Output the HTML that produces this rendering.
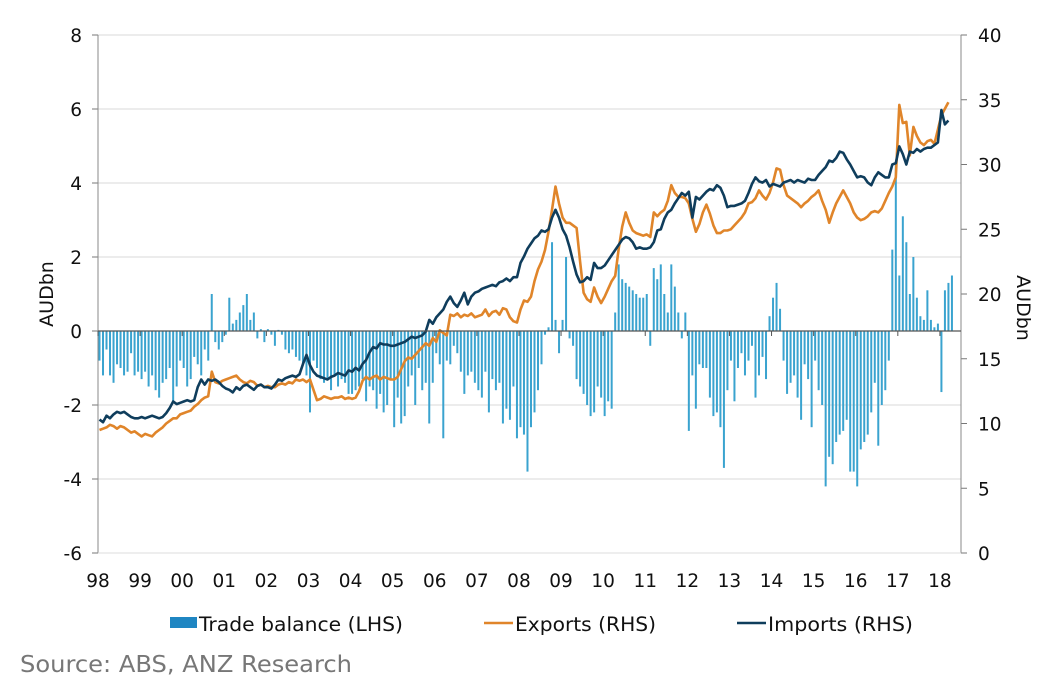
<!DOCTYPE html>
<html><head><meta charset="utf-8">
<style>
body{margin:0;background:#fff;width:1050px;height:694px;overflow:hidden;font-family:"DejaVu Sans","Liberation Sans",sans-serif;}
svg text{font-family:"DejaVu Sans","Liberation Sans",sans-serif;}
</style></head>
<body>
<svg id="chart" width="1050" height="694" viewBox="0 0 1050 694">
  <g id="grid"></g>
  <g id="bars"></g>
  <g id="lines"></g>
  <g id="axes"></g>
  <text x="53" y="294" font-size="19" fill="#111" transform="rotate(-90 53 294)" text-anchor="middle">AUDbn</text>
  <text x="1017" y="308" font-size="19" fill="#111" transform="rotate(90 1017 308)" text-anchor="middle">AUDbn</text>
  <g>
    <g>
      <rect x="170" y="617" width="27" height="11" fill="#1f86c2"/>
      <text x="199" y="631" font-size="19.5" fill="#111" textLength="204" lengthAdjust="spacingAndGlyphs">Trade balance (LHS)</text>
    </g>
    <g>
      <line x1="484" y1="623" x2="513" y2="623" stroke="#e0852a" stroke-width="2.5"/>
      <text x="515" y="631" font-size="19.5" fill="#111" textLength="141" lengthAdjust="spacingAndGlyphs">Exports (RHS)</text>
    </g>
    <g>
      <line x1="737" y1="623" x2="766" y2="623" stroke="#0f3d5c" stroke-width="2.5"/>
      <text x="768" y="631" font-size="19.5" fill="#111" textLength="145" lengthAdjust="spacingAndGlyphs">Imports (RHS)</text>
    </g>
  </g>
  <text x="20" y="672" font-size="23.5" fill="#777" textLength="332" lengthAdjust="spacingAndGlyphs">Source: ABS, ANZ Research</text>
</svg>
<script>
const yearLabels = ["98","99","00","01","02","03","04","05","06","07","08","09","10","11","12","13","14","15","16","17","18"];
const leftTicks = [-6,-4,-2,0,2,4,6,8];
const rightTicks = [0,5,10,15,20,25,30,35,40];
const balance = [
-0.8,-1.2,-0.5,-1.2,-1.4,-0.9,-1.0,-1.2,-1.1,-0.6,-1.2,-1.1,
-1.3,-1.1,-1.5,-1.2,-1.6,-1.8,-1.4,-1.3,-1.0,-1.9,-1.5,-0.8,
-1.0,-1.5,-1.3,-0.7,-0.9,-1.2,-0.5,-0.8,1.0,-0.3,-0.5,-0.3,
-0.1,0.9,0.2,0.3,0.5,0.7,1.0,0.3,0.5,-0.2,0.05,-0.3,
0.05,-0.1,-0.4,0.03,-0.1,-0.5,-0.6,-0.5,-0.7,-0.8,-0.9,-1.2,
-2.2,-0.8,-1.0,-1.3,-1.4,-1.3,-1.6,-1.2,-1.5,-1.3,-1.4,-1.7,
-1.7,-1.6,-1.5,-1.3,-1.9,-1.5,-1.6,-2.1,-1.7,-2.2,-2.0,-1.3,
-2.6,-1.8,-2.5,-2.3,-1.5,-1.2,-2.0,-1.0,-1.6,-1.4,-2.5,-1.4,
-0.6,-0.9,-2.9,-0.8,-0.9,-0.4,-0.6,-1.1,-1.7,-1.2,-1.1,-1.4,
-1.6,-1.8,-1.1,-2.2,-1.3,-1.6,-1.4,-2.5,-2.1,-2.4,-1.5,-2.9,
-2.6,-2.8,-3.8,-2.6,-2.2,-1.6,-0.9,-0.1,0.1,2.4,0.3,-0.6,
0.3,2.0,-0.2,-0.4,-1.3,-1.5,-1.7,-2.0,-2.3,-2.2,-1.5,-1.8,
-2.3,-1.9,-2.1,0.5,1.8,1.4,1.3,1.2,1.1,1.0,0.9,0.9,
1.0,-0.4,1.7,1.4,1.8,1.0,0.5,1.8,1.2,0.5,-0.2,0.5,
-2.7,-1.2,-2.1,-0.9,-1.0,-1.0,-1.8,-2.3,-2.2,-2.6,-3.7,-1.6,
-0.8,-1.9,-1.0,-0.6,-1.2,-0.8,-0.4,-1.8,-1.2,-0.7,-1.3,0.4,
0.9,1.3,0.6,-0.8,-1.7,-1.4,-1.2,-1.8,-2.4,-0.9,-1.3,-2.6,
-0.8,-1.6,-2.0,-4.2,-3.4,-3.6,-3.0,-2.8,-2.7,-2.4,-3.8,-3.8,
-4.2,-3.2,-3.0,-2.8,-2.2,-1.4,-3.1,-2.0,-1.6,-0.8,2.2,4.5,
1.5,3.1,2.4,1.0,2.0,0.9,0.4,0.3,1.1,0.3,0.1,0.2,
-1.65,1.1,1.3,1.5];
const exportsRHS = [
9.5,9.6,9.7,9.9,9.8,9.6,9.8,9.7,9.5,9.3,9.4,9.2,
9.0,9.2,9.1,9.0,9.3,9.5,9.7,10.0,10.2,10.4,10.4,10.7,
10.8,10.9,11.0,11.3,11.5,11.8,12.0,12.1,14.0,13.2,13.1,13.3,
13.4,13.5,13.6,13.7,13.4,13.2,13.1,13.3,13.2,12.9,13.0,12.8,
12.9,12.8,12.8,13.0,13.1,13.0,13.2,13.1,13.4,13.3,13.4,13.2,
13.4,12.6,11.8,11.9,12.1,12.0,11.9,12.0,12.0,12.1,11.9,12.0,
11.9,12.0,12.5,13.3,13.6,13.4,13.6,13.7,13.4,13.6,13.5,13.4,
13.4,13.6,14.2,14.8,15.1,15.0,15.3,15.6,15.9,16.2,16.0,16.6,
16.3,17.2,17.0,16.8,18.4,18.3,18.5,18.2,18.4,18.3,18.5,18.2,
18.3,18.4,18.8,18.3,18.6,18.7,18.4,18.9,18.8,18.2,17.9,17.8,
18.8,19.5,19.4,19.8,21.0,21.9,22.5,23.4,24.8,26.5,28.3,27.0,
25.9,25.5,25.5,25.3,25.1,22.5,20.1,19.6,19.4,20.5,19.8,19.3,
19.8,20.4,21.0,21.4,23.5,25.2,26.3,25.5,24.9,24.7,24.6,24.5,
24.6,24.4,26.3,26.0,26.3,26.5,27.2,28.4,27.8,27.5,27.5,27.4,
27.0,25.8,24.8,25.4,26.3,26.9,26.2,25.3,24.7,24.7,24.9,24.9,
25.0,25.3,25.6,25.9,26.3,27.0,27.1,27.4,28.0,27.6,27.3,27.8,
28.6,29.7,29.6,28.4,27.6,27.4,27.2,27.0,26.7,27.0,27.2,27.5,
27.7,28.0,27.2,26.5,25.5,26.3,27.0,27.5,28.0,27.5,27.0,26.3,
25.9,25.7,25.8,26.0,26.3,26.4,26.3,26.6,27.2,27.8,28.3,29.0,
34.6,33.2,33.3,30.7,32.9,32.2,31.7,31.5,31.8,31.9,31.6,32.7,
33.8,34.3,34.8];
const importsRHS = [
10.3,10.1,10.6,10.4,10.7,10.9,10.8,10.9,10.7,10.5,10.4,10.4,
10.5,10.4,10.5,10.6,10.5,10.4,10.5,10.8,11.2,11.7,11.5,11.6,
11.7,11.8,11.7,11.8,12.8,13.4,13.0,13.4,13.3,13.4,13.2,12.9,
12.7,12.6,12.4,12.8,12.6,12.9,13.0,12.8,12.6,12.9,13.0,12.8,
12.8,12.7,13.0,13.4,13.3,13.5,13.6,13.7,13.6,13.8,14.6,15.3,
14.5,14.0,13.7,13.6,13.5,13.4,13.6,13.7,13.9,13.8,13.7,14.1,
14.0,14.3,14.1,14.6,14.9,15.5,15.9,15.8,16.2,16.1,16.1,16.0,
16.0,16.1,16.2,16.3,16.5,16.7,16.6,16.7,16.8,17.1,18.0,17.7,
18.2,18.5,18.8,19.4,19.8,19.3,19.0,19.5,20.1,19.2,19.8,20.1,
20.2,20.4,20.5,20.6,20.7,20.6,20.9,21.0,21.2,21.0,21.3,21.3,
22.4,22.9,23.5,23.9,24.3,24.5,24.9,24.8,25.0,25.9,26.5,25.9,
25.0,24.5,23.6,22.5,21.5,20.9,21.0,21.3,21.1,22.4,22.0,22.0,
22.2,22.6,23.0,23.4,23.8,24.2,24.4,24.3,24.0,23.5,23.6,23.5,
23.5,23.6,24.0,24.9,25.0,25.8,26.3,26.5,27.0,27.4,27.8,27.6,
27.9,25.9,27.5,27.3,27.6,27.9,28.1,28.0,28.4,28.2,27.6,26.7,
26.8,26.8,26.9,27.0,27.2,27.8,28.5,29.0,28.7,28.6,28.8,28.3,
28.5,28.4,28.3,28.6,28.7,28.8,28.6,28.8,28.7,28.6,28.9,28.8,
28.8,29.2,29.5,29.8,30.3,30.2,30.5,31.0,30.9,30.4,30.0,29.5,
29.0,29.1,29.0,28.6,28.4,29.0,29.4,29.2,29.0,29.0,30.0,30.1,
31.4,30.8,30.0,31.0,30.9,31.2,31.0,31.2,31.3,31.3,31.5,31.7,
34.2,33.1,33.4];

const NS="http://www.w3.org/2000/svg";
const X0=98, XR=961, YT=35, YB=553, MPX=3.508;
function xm(i){return X0+1.5+i*MPX;}
function yL(v){return YT+(8-v)*(YB-YT)/14;}
function yR(v){return YB-v*(YB-YT)/40;}
function mk(tag,attrs,parent){const e=document.createElementNS(NS,tag);for(const k in attrs)e.setAttribute(k,attrs[k]);parent.appendChild(e);return e;}

const grid=document.getElementById('grid'), axes=document.getElementById('axes');
leftTicks.forEach(t=>{
  if(t!==0&&t!==-6){const g=mk('line',{x1:X0,x2:XR,y1:yL(t),y2:yL(t),stroke:'#dadada','stroke-width':1},grid);
  
  }
  mk('line',{x1:X0-6,x2:X0,y1:yL(t),y2:yL(t),stroke:'#777'},axes);
  const tx=mk('text',{x:X0-16,y:yL(t)+7,'font-size':18.5,'text-anchor':'end',fill:'#111'},axes);
  tx.textContent=t;
  
  
});
rightTicks.forEach(t=>{
  mk('line',{x1:XR,x2:XR+6,y1:yR(t),y2:yR(t),stroke:'#777'},axes);
  const tx=mk('text',{x:XR+17,y:yR(t)+7,'font-size':18.5,fill:'#111'},axes);
  tx.textContent=t;
  
  
});
mk('line',{x1:X0,x2:X0,y1:YT,y2:YB,stroke:'#888'},axes);
mk('line',{x1:XR,x2:XR,y1:YT,y2:YB,stroke:'#888'},axes);
mk('line',{x1:X0,x2:XR,y1:YB,y2:YB,stroke:'#ddd'},axes);
mk('line',{x1:X0,x2:XR,y1:yL(0),y2:yL(0),stroke:'#555','stroke-width':1.2},axes);
yearLabels.forEach((lb,k)=>{
  const x=X0+k*12*MPX;
  mk('line',{x1:x,x2:x,y1:yL(0),y2:yL(0)+5,stroke:'#555'},axes);
  const tx=mk('text',{x:x,y:587,'font-size':18.5,'text-anchor':'middle',fill:'#111'},axes);
  tx.textContent=lb;
  
  
});
const bars=document.getElementById('bars');
balance.forEach((v,i)=>{
  const y0=yL(0), y1=yL(v);
  const r=mk('rect',{x:xm(i)-1,y:Math.min(y0,y1),width:2,height:Math.abs(y1-y0),fill:'#3aa3cf'},bars);
  
  
});
const lines=document.getElementById('lines');
function drawLine(arr,color,name){
  const d=arr.map((v,i)=>(i?'L':'M')+xm(i).toFixed(1)+','+yR(v).toFixed(1)).join('');
  const p=mk('path',{d:d,fill:'none',stroke:color,'stroke-width':2.6,'stroke-linejoin':'round'},lines);
  
  
}
drawLine(exportsRHS,'#e0852a','exports-line');
drawLine(importsRHS,'#0f3d5c','imports-line');
</script>
</body></html>
